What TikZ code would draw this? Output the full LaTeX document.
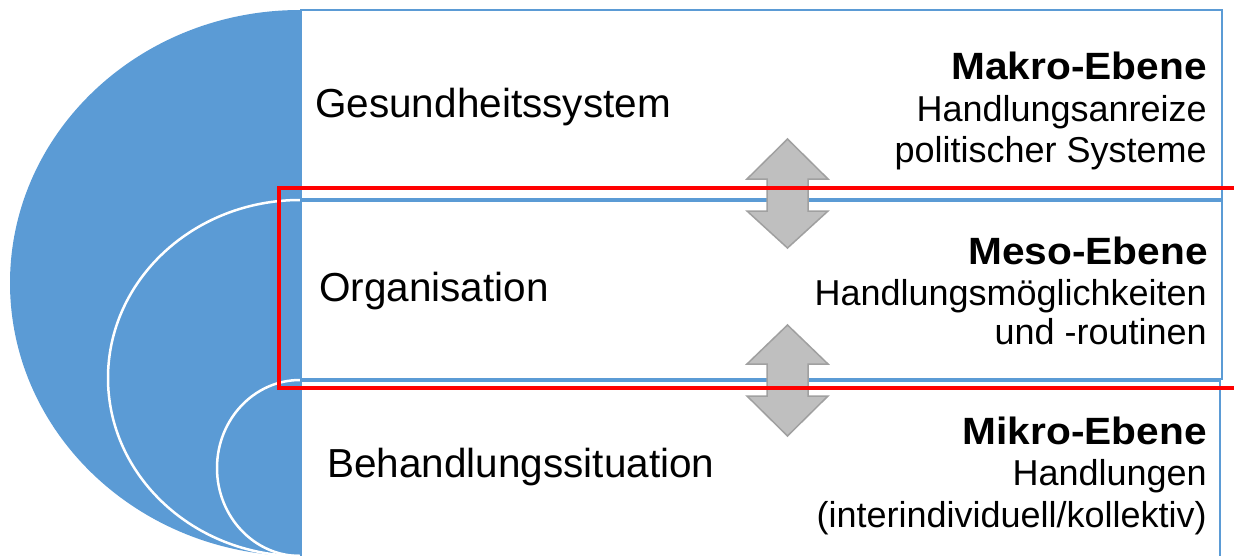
\documentclass[tikz,border=0pt]{standalone}
\usepackage{fontspec}
\setmainfont{Liberation Sans}
\newfontfamily\rfamB[FakeStretch=1.07]{Liberation Sans}
\definecolor{sblue}{HTML}{5B9BD5}
\definecolor{arrowgray}{HTML}{BFBFBF}
\definecolor{arrowedge}{HTML}{A0A0A0}
\begin{document}
\begin{tikzpicture}[x=1pt,y=-1pt,
  box/.style={draw=sblue, line width=2pt, fill=white},
  lefttext/.style={anchor=base west, inner sep=0pt, font=\fontsize{40.5}{48}\selectfont},
  headtext/.style={anchor=base east, inner sep=0pt, font=\rfamB\bfseries\fontsize{38}{44}\selectfont},
  desctext/.style={anchor=base east, inner sep=0pt, font=\fontsize{36}{42}\selectfont},
  dblarrow/.style={fill=arrowgray, draw=arrowedge, line width=1.5pt, line join=miter},
  sepline/.style={draw=white, line width=2.5pt},
  focus/.style={draw=red, line width=4pt}]
\useasboundingbox (0,0) rectangle (1234,555);

% blue nested half shapes
\fill[sblue] (300,10) arc[start angle=270, end angle=90, x radius=290, y radius=273] -- cycle;
\draw[sepline] (300,200) arc[start angle=270, end angle=90, x radius=192, y radius=178];
\draw[sepline] (300,380) arc[start angle=270, end angle=90, x radius=83, y radius=88];

% boxes
\draw[box] (301,10) rectangle (1222,199);
\draw[box] (301,201) rectangle (1222,379);
\draw[box] (301,381) rectangle (1220,565);

% left labels
\node[lefttext] (ges) at (315,117) {Gesundheitssystem};
\node[lefttext] (org) at (319,301) {Organisation};
\node[lefttext] (beh) at (327,477) {Behandlungssituation};

% right texts
\node[headtext] (makro) at (1207,79) {Makro-Ebene};
\node[desctext] (makro1) at (1207,121) {Handlungsanreize};
\node[desctext] (makro2) at (1207,162) {politischer Systeme};

\node[headtext] (meso) at (1208,264) {Meso-Ebene};
\node[desctext] (meso1) at (1207,305) {Handlungsmöglichkeiten};
\node[desctext] (meso2) at (1207,344) {und -routinen};

\node[headtext] (mikro) at (1207,444) {Mikro-Ebene};
\node[desctext] (mikro1) at (1207,485) {Handlungen};
\node[desctext] (mikro2) at (1207,527) {(interindividuell/kollektiv)};

% double arrows
\draw[dblarrow] (787.5,139) -- (828,179) -- (808,179) -- (808,211) -- (828,211)
  -- (787.5,248) -- (747,211) -- (767,211) -- (767,179) -- (747,179) -- cycle;
\draw[dblarrow] (787.5,325) -- (828,364) -- (808,364) -- (808,396) -- (828,396)
  -- (787.5,436) -- (747,396) -- (767,396) -- (767,364) -- (747,364) -- cycle;

% red highlight
\draw[focus] (278.5,187.5) rectangle (1245,387.5);
\end{tikzpicture}
\end{document}
